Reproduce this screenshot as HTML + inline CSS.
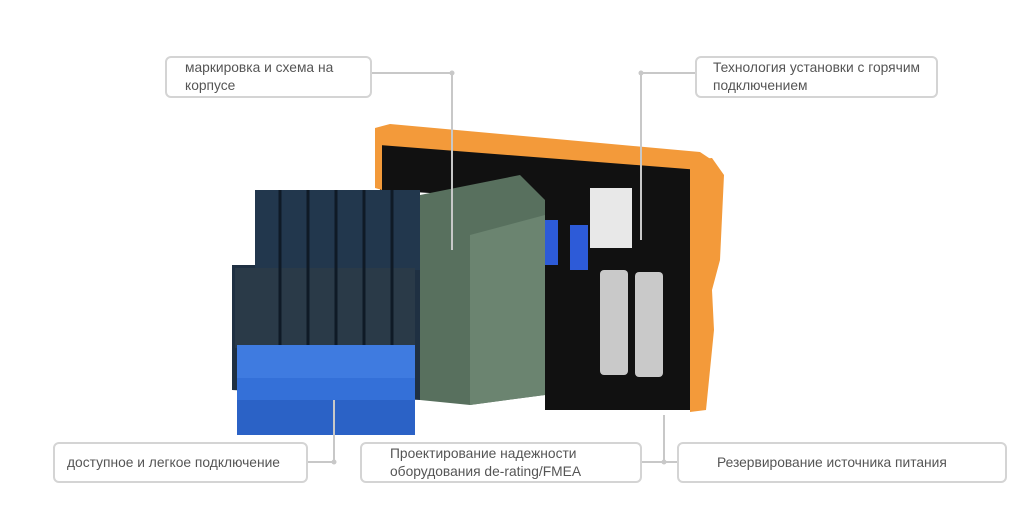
<!DOCTYPE html>
<html><head><meta charset="utf-8"><style>
body{margin:0;width:1024px;height:516px;background:#fff;position:relative;overflow:hidden;font-family:"Liberation Sans",sans-serif}
.b{position:absolute;border:2px solid #d4d4d4;border-radius:6px;background:#fff;color:#555;font-size:13.8px;line-height:18px;box-sizing:border-box;padding:0 12px;display:flex;align-items:center}
svg{position:absolute;left:0;top:0}
</style></head><body>
<svg width="1024" height="516">
<polygon points="380,140 700,165 700,410 545,410 545,200 380,190" fill="#111"/>
<polygon points="375,128 390,124 700,152 712,160 712,175 700,170 380,145" fill="#f39a3a"/>
<polygon points="690,160 712,158 724,175 720,260 712,290 714,330 706,410 690,412" fill="#f39a3a"/>
<polygon points="375,128 382,128 382,190 375,188" fill="#f39a3a"/>
<rect x="590" y="188" width="42" height="60" fill="#e8e8e8"/>
<rect x="540" y="220" width="18" height="45" fill="#2d5bd8"/>
<rect x="570" y="225" width="18" height="45" fill="#2d5bd8"/>
<rect x="600" y="270" width="28" height="105" rx="4" fill="#c9c9c9"/>
<rect x="635" y="272" width="28" height="105" rx="4" fill="#c9c9c9"/>
<polygon points="420,195 520,175 545,200 545,395 470,405 420,400" fill="#58705e"/>
<polygon points="470,235 545,215 545,395 470,405" fill="#6b8470"/>
<polygon points="255,190 420,195 420,400 232,390 232,265 255,265" fill="#1f3042"/>
<rect x="255" y="190" width="165" height="80" fill="#22374d"/>
<rect x="235" y="268" width="180" height="80" fill="#2a3a48"/>
<g stroke="#0f1a26" stroke-width="3">
<line x1="280" y1="190" x2="280" y2="400"/><line x1="308" y1="190" x2="308" y2="400"/>
<line x1="336" y1="190" x2="336" y2="400"/><line x1="364" y1="190" x2="364" y2="400"/><line x1="392" y1="190" x2="392" y2="400"/>
</g>
<rect x="237" y="345" width="178" height="35" fill="#3f7be0"/>
<rect x="237" y="378" width="178" height="57" fill="#3470d8"/>
<rect x="237" y="400" width="178" height="35" fill="#2b62c6"/>
<g stroke="#c8c8c8" stroke-width="2" fill="none">
<polyline points="372,73 452,73 452,250"/>
<polyline points="695,73 641,73 641,240"/>
<polyline points="308,462 334,462 334,400"/>
<polyline points="642,462 677,462"/>
<line x1="664" y1="462" x2="664" y2="415"/>
</g>
<g fill="#c8c8c8"><circle cx="452" cy="73" r="2.5"/><circle cx="641" cy="73" r="2.5"/><circle cx="334" cy="462" r="2.5"/><circle cx="664" cy="462" r="2.5"/></g>
</svg>
<div class="b" style="left:165px;top:56px;width:207px;height:42px;padding-left:18px">маркировка и схема на<br>корпусе</div>
<div class="b" style="left:695px;top:56px;width:243px;height:42px;padding-left:16px">Технология установки с горячим<br>подключением</div>
<div class="b" style="left:53px;top:442px;width:255px;height:41px">доступное и легкое подключение</div>
<div class="b" style="left:360px;top:442px;width:282px;height:41px;padding-left:28px">Проектирование надежности<br>оборудования de-rating/FMEA</div>
<div class="b" style="left:677px;top:442px;width:330px;height:41px;padding-left:38px">Резервирование источника питания</div>
</body></html>
